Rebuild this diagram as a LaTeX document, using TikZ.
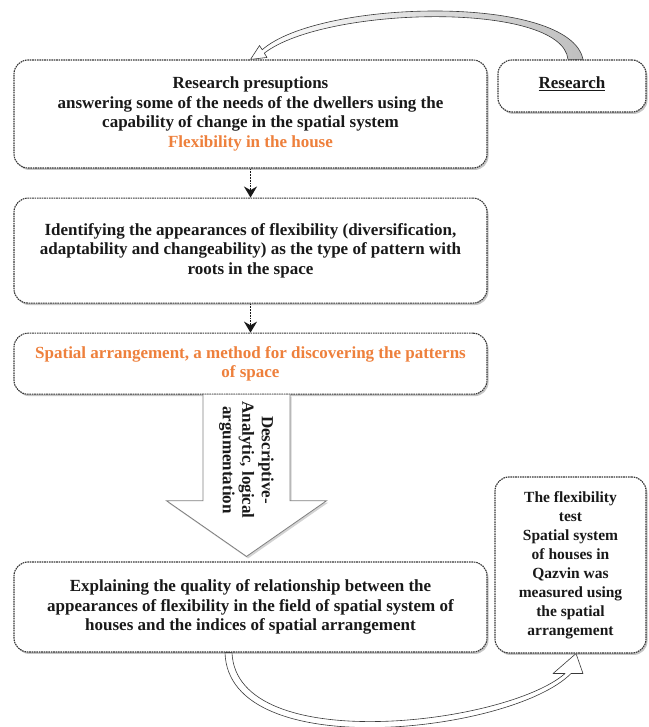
\documentclass[tikz,border=0pt]{standalone}
\usepackage{fontspec}
\setmainfont{Liberation Serif}
\usetikzlibrary{positioning,arrows.meta,shadows}
\definecolor{txtgray}{RGB}{25,25,25}
\definecolor{myorange}{RGB}{238,128,60}
\definecolor{edgegray}{RGB}{55,55,55}
\tikzset{
stagebox/.style={
  draw=edgegray, line width=1.1pt, dash pattern=on 1.6pt off 0.8pt,
  rounded corners=14pt, fill=white,
  drop shadow={shadow xshift=1.5pt,shadow yshift=-2pt,opacity=0.45},
  text=txtgray, align=center, inner sep=4pt,
  font=\bfseries\fontsize{17}{19.5}\selectfont
  },
notebox/.style={stagebox,font=\bfseries\fontsize{15.5}{19}\selectfont},
dotarrow/.style={densely dotted, line width=1.8pt, txtgray,
  -{Stealth[length=11pt,width=13pt]}},
bigarrow/.style={draw=gray, line width=0.8pt, fill=white,
  drop shadow={shadow xshift=1.5pt,shadow yshift=-2pt,opacity=0.35}},
curvearrow/.style={draw=gray!45!black, line width=0.6pt, line join=round}
}
\pgfdeclarelayer{background}
\pgfsetlayers{background,main}

\begin{document}
\begin{tikzpicture}[x=1pt,y=1pt]
\useasboundingbox (0,0) rectangle (648,727);

\node[stagebox,minimum width=473pt,minimum height=108pt] (presup) at (250.5,613)
  {Research presuptions\\
   answering some of the needs of the dwellers using the\\
   capability of change in the spatial system\\
   \textcolor{myorange}{Flexibility in the house}};
\node[stagebox,minimum width=148pt,minimum height=52pt] (research) at (572,641)
  {\raisebox{7pt}{\underline{Research}}};
\node[stagebox,minimum width=473pt,minimum height=105pt,below=29pt of presup] (appear)
  {Identifying the appearances of flexibility (diversification,\\
   adaptability and changeability) as the type of pattern with\\
   roots in the space};
\node[stagebox,minimum width=473pt,minimum height=61pt,below=29pt of appear,
  text=myorange] (arrange)
  {Spatial arrangement, a method for discovering the patterns\\
   of space};
\node[stagebox,minimum width=473pt,minimum height=90pt] (explain) at (250.5,120)
  {Explaining the quality of relationship between the\\
   appearances of flexibility in the field of spatial system of\\
   houses and the indices of spatial arrangement};
\node[notebox,minimum width=151pt,minimum height=176pt] (test) at (570.5,162)
  {The flexibility\\test\\Spatial system\\of houses in\\Qazvin was\\
   measured using\\the spatial\\arrangement};

\draw[dotarrow] (presup) -- (appear);
\draw[dotarrow] (appear) -- (arrange);

% method arrow
\begin{scope}
\coordinate (atop) at ([xshift=-4pt]arrange.south);
\coordinate (atip) at ([xshift=-4pt,yshift=5pt]explain.north);
\path (atop) ++(0,-106) coordinate (ahead);
\draw[bigarrow] ([xshift=-43.5pt]atop) -- ([xshift=-43.5pt]ahead)
  -- ([xshift=-80pt]ahead) -- (atip) -- ([xshift=80pt]ahead)
  -- ([xshift=43.5pt]ahead) -- ([xshift=43.5pt]atop);
\node[rotate=-90,align=center,text=txtgray,
  font=\bfseries\fontsize{17}{19.5}\selectfont] (method) at (246.5,267)
  {Descriptive-\\Analytic, logical\\argumentation};
\end{scope}

% loop arrows
\begin{pgfonlayer}{background}
\draw[curvearrow,left color=white,right color=gray!50]
  ([xshift=11pt]research.north) .. controls (570,733) and (320,728)
  .. ([shift={(11.7,9.7)}]presup.north) -- ([shift={(9,13.9)}]presup.north)
  -- (presup.north) -- ([shift={(16.5,2)}]presup.north)
  -- ([shift={(13.8,6.3)}]presup.north) .. controls (325,721) and (562,726)
  .. ([xshift=-4pt]research.north) -- cycle;
\draw[curvearrow,fill=white]
  ([xshift=-25.5pt]explain.south) .. controls (228,-38) and (512,-6)
  .. ([shift={(0.5,-20)}]test.south) -- ([shift={(12.5,-20)}]test.south)
  -- ([xshift=5.5pt]test.south) -- ([shift={(-17.5,-20)}]test.south)
  -- ([shift={(-5.5,-20)}]test.south) .. controls (506,2) and (236,-30)
  .. ([xshift=-18.5pt]explain.south) -- cycle;
\end{pgfonlayer}
\end{tikzpicture}
\end{document}
